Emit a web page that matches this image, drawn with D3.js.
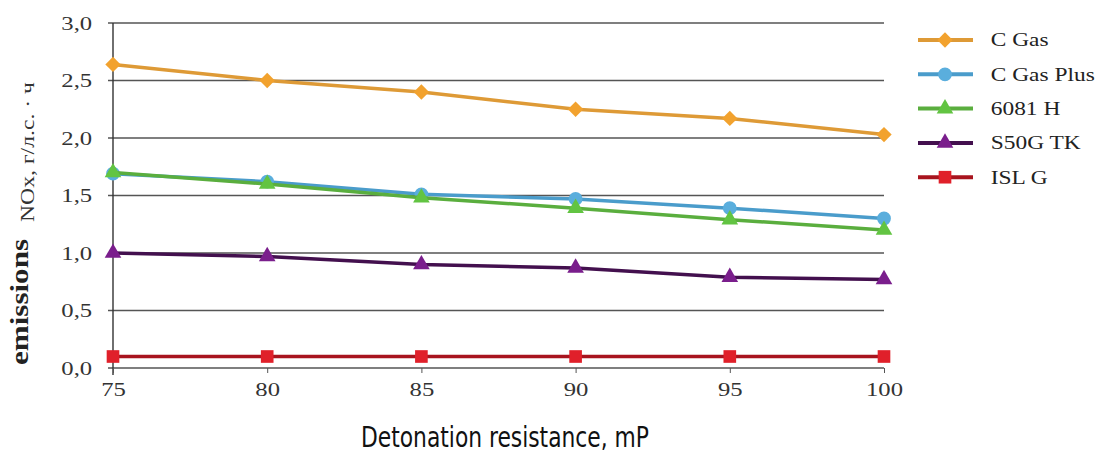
<!DOCTYPE html>
<html>
<head>
<meta charset="utf-8">
<script src="https://cdn.jsdelivr.net/npm/d3@7"></script>
<style>
  body { margin: 0; background: #fff; }
  svg { display: block; }
</style>
</head>
<body>
<div id="chart"></div>
<script>
'use strict';

// data
const xValues = [75, 80, 85, 90, 95, 100];
const cGas = [2.64, 2.50, 2.40, 2.25, 2.17, 2.03];
const cGasPlus = [1.69, 1.62, 1.51, 1.47, 1.39, 1.30];
const h6081 = [1.70, 1.60, 1.48, 1.39, 1.29, 1.20];
const s50gTk = [1.00, 0.97, 0.90, 0.87, 0.79, 0.77];
const islG = [0.10, 0.10, 0.10, 0.10, 0.10, 0.10];
const yTicks = [0, 0.5, 1.0, 1.5, 2.0, 2.5, 3.0];

const series = [
  {name: "C Gas", values: cGas, line: "#DE9A36", fill: "#F2A22E", symbol: d3.symbolDiamond2, size: 150},
  {name: "C Gas Plus", values: cGasPlus, line: "#4A9CCB", fill: "#5AAEDD", symbol: d3.symbolCircle, size: 150},
  {name: "6081 H", values: h6081, line: "#5AAE3E", fill: "#62C442", symbol: d3.symbolTriangle, size: 120},
  {name: "S50G TK", values: s50gTk, line: "#43104E", fill: "#7A1E8C", symbol: d3.symbolTriangle, size: 120},
  {name: "ISL G", values: islG, line: "#A8141E", fill: "#E0202A", symbol: d3.symbolSquare, size: 160}
];

var width = 1106, height = 455;
var margin = {top: 23, left: 113, right: 222, bottom: 87};
var stretch = "scale(1.3,1)";

var svg = d3.select("#chart").append("svg")
  .attr("width", width)
  .attr("height", height);

var x = d3.scaleLinear().domain([75, 100]).range([margin.left, width - margin.right]);
var y = d3.scaleLinear().domain([0, 3]).range([height - margin.bottom, margin.top]);

// gridlines
svg.append("g")
  .selectAll("line")
  .data(yTicks)
  .enter().append("line")
  .attr("x1", margin.left - 5)
  .attr("x2", width - margin.right)
  .attr("y1", d => y(d))
  .attr("y2", d => y(d))
  .attr("stroke", "#555")
  .attr("stroke-width", 1.4);

// y axis
var yAxis = svg.append("g")
  .attr("transform", "translate(" + margin.left + ",0)")
  .call(d3.axisLeft(y).tickValues(yTicks).tickSize(5).tickPadding(11)
    .tickFormat(d => d3.format(".1f")(d).replace(".", ",")));
yAxis.select(".domain").attr("stroke", "#333").attr("stroke-width", 1.4)
  .attr("d", "M0," + y(3) + "V" + (y(0) + 7));
yAxis.selectAll(".tick line").remove();
yAxis.selectAll("text")
  .attr("font-family", "Liberation Serif")
  .attr("font-size", 19)
  .attr("fill", "#333")
  .attr("transform", stretch);

// x axis
var xAxis = svg.append("g")
  .attr("transform", "translate(0," + y(0) + ")")
  .call(d3.axisBottom(x).tickValues(xValues).tickSize(5).tickPadding(10));
xAxis.select(".domain").remove();
xAxis.selectAll(".tick line").attr("stroke", "#555");
xAxis.selectAll("text")
  .attr("font-family", "Liberation Serif")
  .attr("font-size", 19)
  .attr("fill", "#333")
  .attr("transform", stretch);

// axis titles
svg.append("text")
  .attr("transform", "translate(28,302) rotate(-90)")
  .attr("text-anchor", "middle")
  .attr("font-family", "Liberation Serif")
  .attr("font-weight", "bold")
  .attr("font-size", 26)
  .attr("fill", "#222")
  .attr("textLength", 126)
  .attr("lengthAdjust", "spacingAndGlyphs")
  .text("emissions");

svg.append("text")
  .attr("transform", "translate(34,152) rotate(-90)")
  .attr("text-anchor", "middle")
  .attr("font-family", "Liberation Serif")
  .attr("font-size", 19)
  .attr("fill", "#333")
  .attr("textLength", 140)
  .attr("lengthAdjust", "spacingAndGlyphs")
  .text("NOx, г/л.с. · ч");

svg.append("text")
  .attr("x", 505)
  .attr("y", 447)
  .attr("text-anchor", "middle")
  .attr("font-family", "DejaVu Sans Condensed")
  .attr("font-stretch", "condensed")
  .attr("font-size", 29)
  .attr("fill", "#111")
  .attr("textLength", 288)
  .attr("lengthAdjust", "spacingAndGlyphs")
  .text("Detonation resistance, mP");

// lines and markers
var line = d3.line()
  .x((d, i) => x(xValues[i]))
  .y(d => y(d));

series.forEach(function(s) {
  svg.append("path")
    .datum(s.values)
    .attr("fill", "none")
    .attr("stroke", s.line)
    .attr("stroke-width", 3.5)
    .attr("d", line);

  svg.append("g")
    .selectAll("path")
    .data(s.values)
    .enter().append("path")
    .attr("transform", (d, i) => "translate(" + x(xValues[i]) + "," + y(d) + ")")
    .attr("d", d3.symbol().type(s.symbol).size(s.size))
    .attr("fill", s.fill);
});

// legend
var legend = svg.append("g")
  .attr("transform", "translate(918,40)");

var row = legend.selectAll("g")
  .data(series)
  .enter().append("g")
  .attr("transform", (d, i) => "translate(0," + (i * 34.3) + ")");

row.append("line")
  .attr("x1", 0).attr("x2", 55)
  .attr("stroke", d => d.line)
  .attr("stroke-width", 4);

row.append("path")
  .attr("transform", "translate(27,0)")
  .attr("d", d => d3.symbol().type(d.symbol).size(d.size)())
  .attr("fill", d => d.fill);

row.append("text")
  .attr("x", 56)
  .attr("dy", "0.35em")
  .attr("font-family", "Liberation Serif")
  .attr("font-size", 18)
  .attr("fill", "#222")
  .attr("transform", stretch)
  .text(d => d.name);
</script>
</body>
</html>
